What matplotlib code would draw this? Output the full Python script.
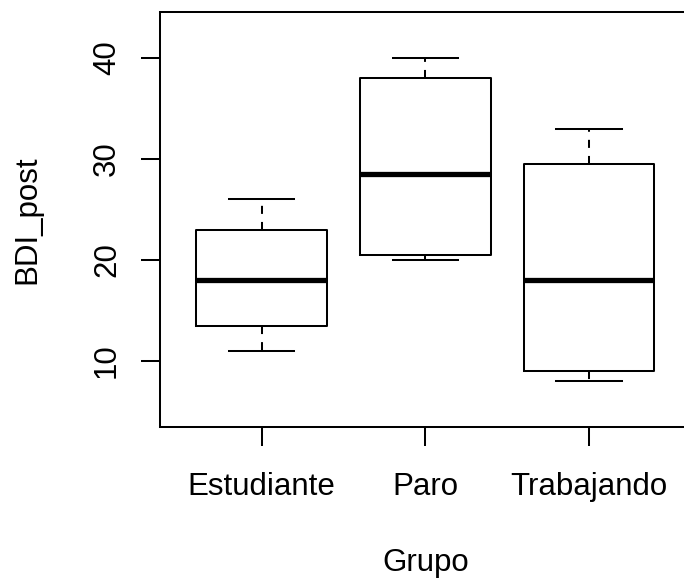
import matplotlib
matplotlib.use("Agg")
import matplotlib.pyplot as plt

groups = ["Estudiante", "Paro", "Trabajando"]
whisker_low = [11, 20, 8]
q1 = [13.5, 20.5, 9]
median = [18, 28.5, 18]
q3 = [23, 38, 29.5]
whisker_high = [26, 40, 33]
yticks = [10, 20, 30, 40]

plt.rcParams['font.family'] = ['Liberation Sans', 'DejaVu Sans']

fig = plt.figure(figsize=(6.84, 5.79), dpi=100)
ax = fig.add_axes([160.3/684, (579-427)/579, 530.2/684, (427-12)/579])

stats = []
for g, wl, a, m, b, wh in zip(groups, whisker_low, q1, median, q3, whisker_high):
    stats.append(dict(label=g, whislo=wl, q1=a, med=m, q3=b, whishi=wh, fliers=[]))

lw = 1.45
ax.bxp(stats, positions=[1, 2, 3], widths=0.8, showfliers=False,
       boxprops=dict(color='black', linewidth=lw),
       medianprops=dict(color='black', linewidth=3.8, solid_capstyle='butt'),
       whiskerprops=dict(color='black', linewidth=lw, linestyle=(0, (4, 4))),
       capprops=dict(color='black', linewidth=lw), capwidths=0.4)

ax.set_xlim(0.38, 3.62)
ax.set_ylim(3.47, 44.55)
ax.set_yticks(yticks)
ax.set_yticklabels([str(v) for v in yticks], rotation=90, va='center')
ax.set_xticks([1, 2, 3])
ax.set_xticklabels(groups)
for s in ax.spines.values():
    s.set_linewidth(lw)
ax.tick_params(axis='both', length=13.5, width=lw, labelsize=22.5)
ax.tick_params(axis='x', pad=19)
ax.tick_params(axis='y', pad=14)
ax.set_xlabel("Grupo", fontsize=22.5, labelpad=33)
ax.set_ylabel("BDI_post", fontsize=22.5, labelpad=36)

fig.savefig("out.png", dpi=100)
